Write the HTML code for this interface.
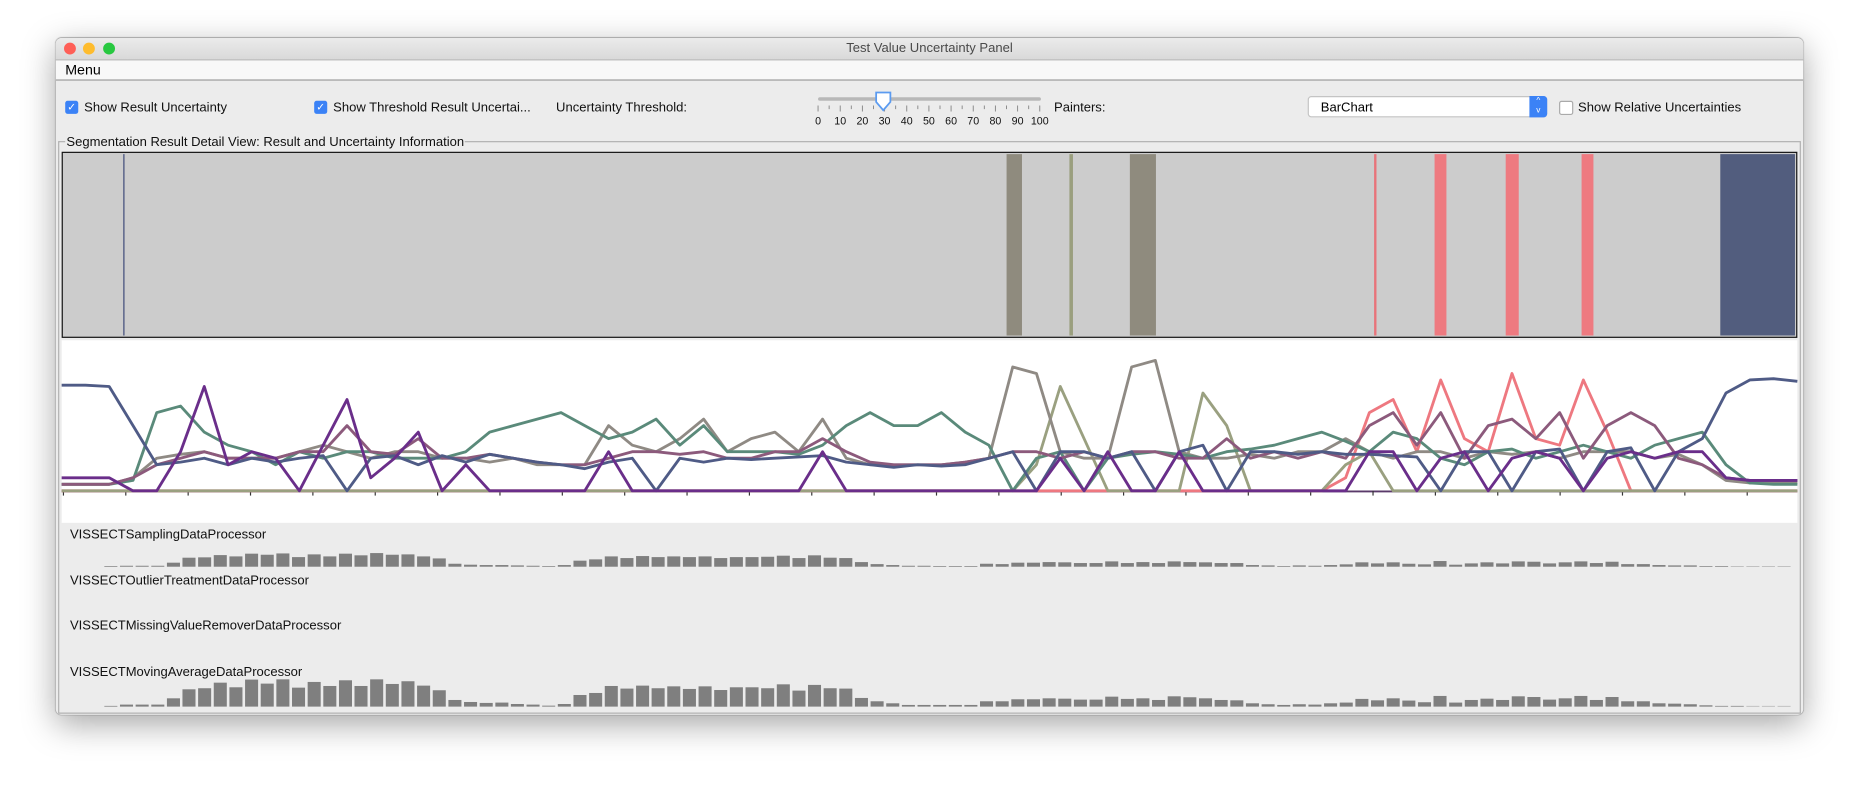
<!DOCTYPE html>
<html><head><meta charset="utf-8">
<style>
html,body{margin:0;padding:0;background:#fff;width:1859px;height:791px;overflow:hidden;font-family:"Liberation Sans",sans-serif;}
#scaler{position:absolute;left:0;top:0;width:1568px;height:667px;transform:scale(1.18559);transform-origin:0 0;}
.win{position:absolute;left:47px;top:32px;width:1474px;height:571px;background:#ececec;border-radius:5px;box-shadow:0 8px 28px rgba(0,0,0,0.35),0 0 1px rgba(0,0,0,0.5);overflow:hidden;}
.titlebar{position:absolute;left:0;top:0;width:100%;height:18px;background:linear-gradient(#ebebeb,#d9d9d9);border-bottom:1px solid #b8b8b8;text-align:center;font-size:11px;line-height:18px;color:#4a4a4a;}
.dot{position:absolute;top:4px;width:10px;height:10px;border-radius:50%;}
.menubar{position:absolute;left:0;top:19px;width:100%;height:16px;background:#f8f8f8;border-bottom:1px solid #999;font-size:12px;line-height:16px;}
.lbl{position:absolute;font-size:11px;color:#111;white-space:nowrap;}
.cb{position:absolute;width:11px;height:11px;border-radius:2px;background:#3b82f6;color:#fff;font-size:9px;line-height:11px;text-align:center;}
.cb.off{background:#fff;border:1px solid #aaa;width:10px;height:10px;}
</style></head><body>
<div id="scaler">
<div class="win">
  <div class="titlebar">Test Value Uncertainty Panel
    <div class="dot" style="left:7px;background:#fe5f57"></div>
    <div class="dot" style="left:23px;background:#febc2e"></div>
    <div class="dot" style="left:40px;background:#28c840"></div>
  </div>
  <div class="menubar"><span style="margin-left:8px">Menu</span></div>

  <div class="cb" style="left:8px;top:53px">✓</div>
  <div class="lbl" style="left:24px;top:53px">Show Result Uncertainty</div>
  <div class="cb" style="left:218px;top:53px">✓</div>
  <div class="lbl" style="left:234px;top:53px">Show Threshold Result Uncertai...</div>
  <div class="lbl" style="left:422px;top:53px">Uncertainty Threshold:</div>

  <div style="position:absolute;left:641px;top:45px;width:192px;height:32px;">
    <div style="position:absolute;left:2px;top:5px;width:188px;height:3px;background:#b8b8b8;border-radius:2px"></div>
    <svg style="position:absolute;left:0;top:0" width="192" height="32">
      <g stroke="#888" stroke-width="0.8" id="ticks"></g>
      <path d="M51,1 h12 v8 l-6,7 l-6,-7z" fill="#fff" stroke="#5b9bf0" stroke-width="1.5"/>
    </svg>
    <div id="tl" style="position:absolute;left:0;top:20px;font-size:9px;color:#111"></div>
  </div>
  <div class="lbl" style="left:842px;top:53px">Painters:</div>
  <div style="position:absolute;left:1056px;top:49px;width:202px;height:18px;background:#fff;border:1px solid #c4c4c4;border-radius:3px;font-size:11px;line-height:18px;box-sizing:border-box;padding-left:10px;">BarChart
    <div style="position:absolute;right:-1px;top:-1px;width:15px;height:18px;background:#3b82f6;border-radius:0 3px 3px 0;color:#fff;font-size:7px;line-height:8px;text-align:center;padding-top:1px;box-sizing:border-box">^<br>v</div></div>
  <div class="cb off" style="left:1268px;top:53px"></div>
  <div class="lbl" style="left:1284px;top:53px">Show Relative Uncertainties</div>

  <div style="position:absolute;left:2px;top:87px;width:1468px;height:481px;border:1px solid #b0b0b0;"></div>
  <div class="lbl" style="left:8px;top:82px;background:#ececec;padding:0 1px">Segmentation Result Detail View: Result and Uncertainty Information</div>
</div>
<svg id="chart" width="1568" height="667" style="position:absolute;left:0;top:0"></svg>
</div>
<script>
// ---------- data ----------
const segStrip = [
 {x0:104,x1:105,c:"#3d4a78"},{x0:849,x1:862,c:"#8f8b7e"},{x0:902,x1:905,c:"#9a9f7e"},
 {x0:953,x1:975,c:"#8f8b7e"},{x0:1159,x1:1161,c:"#e8737a"},{x0:1210,x1:1220,c:"#ee7a80"},
 {x0:1270,x1:1281,c:"#ee7a80"},{x0:1334,x1:1344,c:"#ee7a80"},{x0:1451,x1:1514,c:"#525d7e"}];
const navy = [0.81,0.81,0.8,0.5,0.2,0.22,0.25,0.2,0.25,0.22,0.25,0.27,0.0,0.25,0.27,0.2,0.27,0.22,0.28,0.25,0.22,0.2,0.17,0.22,0.25,0,0.25,0.22,0.25,0.24,0.25,0.26,0.27,0.22,0.2,0.18,0.2,0.19,0.2,0.25,0.3,0.0,0.3,0.3,0.25,0.3,0.0,0.3,0.35,0.0,0.3,0.3,0.28,0.3,0.28,0.28,0.27,0.26,0.0,0.3,0.3,0.0,0.3,0.32,0.0,0.3,0.33,0.0,0.3,0.4,0.75,0.85,0.86,0.84];
const teal = [0.05,0.05,0.05,0.08,0.6,0.65,0.45,0.35,0.3,0.2,0.3,0.25,0.3,0.3,0.25,0.25,0.25,0.3,0.45,0.5,0.55,0.6,0.5,0.4,0.45,0.55,0.35,0.5,0.3,0.3,0.3,0.28,0.35,0.5,0.6,0.5,0.5,0.6,0.45,0.35,0.0,0.25,0.3,0.0,0.25,0.28,0.3,0.28,0.25,0.3,0.32,0.35,0.4,0.45,0.38,0.3,0.45,0.4,0.25,0.2,0.3,0.32,0.25,0.3,0.35,0.3,0.25,0.35,0.4,0.45,0.2,0.06,0.05,0.05];
const purple = [0.1,0.1,0.1,0,0,0.3,0.8,0.2,0.3,0.25,0.0,0.35,0.7,0.1,0.25,0.45,0.0,0.2,0,0,0,0,0,0.3,0,0,0,0,0,0,0,0,0.3,0,0,0,0,0,0,0,0,0,0.25,0,0.3,0,0,0.3,0,0,0,0,0,0,0,0.3,0.3,0.0,0.25,0.3,0,0.25,0.3,0.25,0,0.25,0.3,0.25,0.3,0.3,0.1,0.08,0.08,0.08];
const mauve = [0.05,0.05,0.05,0.1,0.2,0.25,0.3,0.25,0.25,0.25,0.3,0.3,0.5,0.3,0.28,0.4,0.25,0.25,0.28,0.25,0.22,0.2,0.2,0.25,0.3,0.3,0.28,0.3,0.25,0.25,0.3,0.3,0.4,0.3,0.22,0.2,0.2,0.2,0.22,0.25,0.3,0.3,0.25,0.3,0.25,0.3,0.3,0.25,0.25,0.4,0.25,0.3,0.25,0.3,0.25,0.5,0.6,0.35,0.6,0.25,0.5,0.55,0.4,0.6,0.25,0.5,0.6,0.5,0.25,0.2,0.1,0.08,0.08,0.08];
const grayb = [0.05,0.05,0.05,0.1,0.25,0.28,0.3,0.25,0.25,0.25,0.3,0.35,0.3,0.25,0.3,0.3,0.25,0.25,0.22,0.25,0.2,0.2,0.2,0.5,0.35,0.3,0.4,0.55,0.3,0.4,0.45,0.3,0.55,0.25,0.2,0.2,0.2,0.2,0.22,0.25,0.95,0.9,0.3,0.25,0.25,0.95,1.0,0.3,0.25,0.25,0.28,0.25,0.3,0.3,0.4,0.3,0.25,0.3,0.3,0.25,0.3,0.28,0.3,0.25,0.3,0.3,0.3,0.25,0.28,0.2,0.08,0.06,0.06,0.06];
const olive = [0,0,0,0,0,0,0,0,0,0,0,0,0,0,0,0,0,0,0,0,0,0,0,0,0,0,0,0,0,0,0,0,0,0,0,0,0,0,0,0,0,0.2,0.8,0.4,0,0,0,0,0.75,0.5,0,0,0,0,0.2,0.3,0,0,0,0,0,0,0,0,0,0,0,0,0,0,0,0,0,0];
const red = [0,0,0,0,0,0,0,0,0,0,0,0,0,0,0,0,0,0,0,0,0,0,0,0,0,0,0,0,0,0,0,0,0,0,0,0,0,0,0,0,0,0,0,0,0,0,0,0,0,0,0,0,0,0,0.1,0.6,0.7,0.3,0.85,0.4,0.3,0.9,0.4,0.35,0.85,0.45,0,0,0,0,0,0,0,0];
const sampling = [1,3,3,3,12,27,28,35,31,39,36,40,29,37,31,39,34,41,36,37,31,25,9,6,5,5,4,3,2,5,18,22,31,26,32,29,31,29,31,26,29,29,30,33,26,34,27,26,14,8,5,3,3,
 1,1,1,9,8,12,12,14,13,11,11,16,11,14,11,16,14,13,11,11,5,4,1,4,3,5,7,13,10,13,9,7,17,6,10,13,10,16,15,10,13,16,11,15,8,8,5,4,4,2,1,0.5,0.3,0.3,0.3];
const movingAvg = [2,6,6,6,25,52,55,72,58,81,69,82,57,74,62,79,62,82,68,76,63,49,20,14,11,12,8,6,3,8,35,41,62,54,63,55,61,53,61,50,58,58,55,67,48,65,55,54,26,16,10,5,5,
 5,5,5,16,16,22,22,25,24,21,21,30,23,25,20,31,28,25,20,19,10,7,5,7,6,10,12,23,19,25,18,13,32,12,20,24,20,31,29,21,25,32,20,29,16,16,10,9,7,4,2,1,0.5,0.5,0.5];
const processorNames = ["VISSECTSamplingDataProcessor","VISSECTOutlierTreatmentDataProcessor","VISSECTMissingValueRemoverDataProcessor","VISSECTMovingAverageDataProcessor"];
const sliderLabels = ["0","10","20","30","40","50","60","70","80","90","100"];

// ---------- helpers ----------
const NS="http://www.w3.org/2000/svg";
const svg=document.getElementById('chart');
function mk(tag,attrs,parent){const e=document.createElementNS(NS,tag);for(const k in attrs)e.setAttribute(k,attrs[k]);(parent||svg).appendChild(e);return e;}
const lineX = i => 52 + i*(1464/73);
const lineY = v => 414 - v*110;
const barX = i => 88 + i*13.19;
const barH = v => v*0.281;

// slider ticks & labels
const tg=document.getElementById('ticks');
for(let i=0;i<=20;i++){const x=2+i*9.35;mk('line',{x1:x,x2:x,y1:12,y2:i%2?15:17},tg);}
const tl=document.getElementById('tl');
sliderLabels.forEach((s,i)=>{const d=document.createElement('div');


d.textContent=s;d.style.cssText='position:absolute;top:0;left:'+(2+i*18.7)+'px;transform:translateX(-50%)';tl.appendChild(d);});

// segmentation strip
const strip=mk('g',{});


mk('rect',{x:52.5,y:128.5,width:1463,height:156,fill:'#cccccc',stroke:'#111','stroke-width':1},strip);
segStrip.forEach(s=>{const r=mk('rect',{x:s.x0,y:130,width:s.x1-s.x0,height:153,fill:s.c},strip);

});

// line chart
const lc=mk('g',{});


mk('rect',{x:52,y:287,width:1464,height:154,fill:'#ffffff'},lc);
mk('line',{x1:52,x2:1516,y1:414.5,y2:414.5,stroke:'#5a3a6a','stroke-width':1.5},lc);
for(let i=0;i<28;i++){const x=53.5+i*52.6;const t=mk('line',{x1:x,x2:x,y1:414,y2:418,stroke:'#333','stroke-width':1},lc);

}
const series=[[red,'#ee7880','red-series'],[olive,'#9aa080','olive-series'],[grayb,'#8f8a84','gray-series'],[teal,'#5a8a7a','teal-series'],[mauve,'#8c5a7c','mauve-series'],[navy,'#4f5b86','navy-series'],[purple,'#6a2e8a','purple-series']];
series.forEach(([arr,c,n])=>{const pts=arr.map((v,i)=>lineX(i).toFixed(1)+','+lineY(v).toFixed(1)).join(' ');
const p=mk('polyline',{points:pts,fill:'none',stroke:c,'stroke-width':2.4,'stroke-linejoin':'round'},lc);

});

// processor rows
const rowY=[450,489,527,566];
processorNames.forEach((name,k)=>{const t=mk('text',{x:59,y:rowY[k]+4,'font-size':11,'font-family':'Liberation Sans, sans-serif',fill:'#111'});
t.textContent=name;

});
function bars(arr,base,name){const g=mk('g',{});


arr.forEach((v,i)=>{const h=Math.max(barH(v),0.6);const r=mk('rect',{x:barX(i).toFixed(1),y:(base-h).toFixed(1),width:11,height:h.toFixed(1),fill:v<1?'#b0b0b0':'#7f7f7f'},g);

});}
bars(sampling,478,'sampling-bars');
bars(movingAvg,596,'moving-average-bars');
</script>
</body></html>
